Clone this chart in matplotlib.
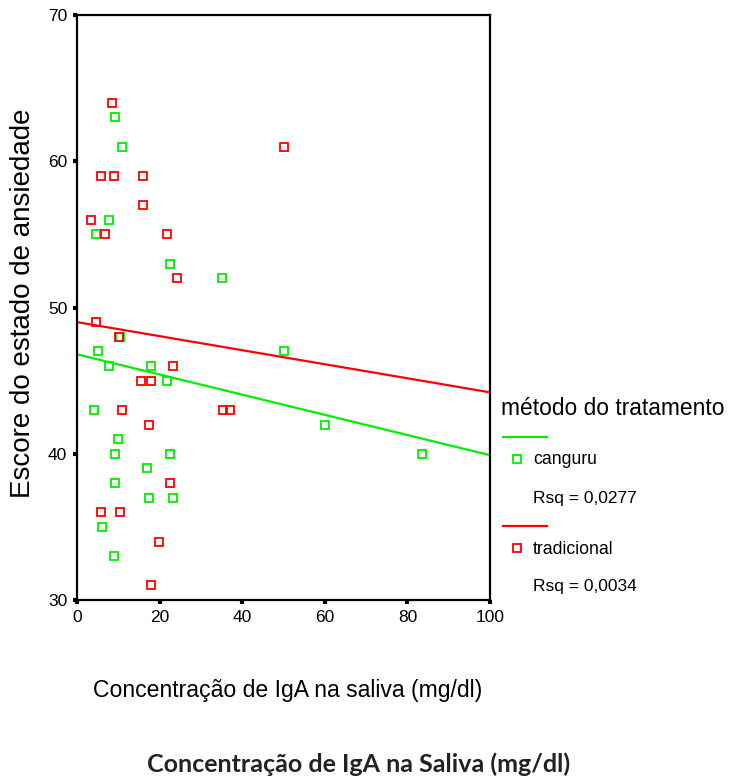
import matplotlib.pyplot as plt
from matplotlib.lines import Line2D
import numpy as np

# valores
canguru_x = [9.3, 10.8, 7.7, 4.5, 22.5, 35.0, 50.0, 60.0, 83.5, 10.3, 5.0, 7.7,
             17.8, 21.7, 4.2, 10.0, 9.3, 22.5, 17.0, 9.3, 17.4, 23.3, 6.1, 8.9]
canguru_y = [63, 61, 56, 55, 53, 52, 47, 42, 40, 48, 47, 46,
             46, 45, 43, 41, 40, 40, 39, 38, 37, 37, 35, 33]
trad_x = [8.5, 5.7, 8.9, 15.9, 15.9, 3.4, 6.9, 21.7, 24.1, 50.0, 35.4, 37.0,
          4.6, 10.1, 23.3, 15.4, 17.8, 10.8, 17.4, 22.5, 5.7, 10.4, 19.8, 17.8]
trad_y = [64, 59, 59, 59, 57, 56, 55, 55, 52, 61, 43, 43,
          49, 48, 46, 45, 45, 43, 42, 38, 36, 36, 34, 31]

# retas de regressão (intercepto, inclinação)
canguru_fit = (46.8, -0.069)
trad_fit = (49.0, -0.048)
rsq_labels = ['Rsq = 0,0277', 'Rsq = 0,0034']

green = '#00ee00'
red = '#ff0000'
font = 'Liberation Sans'

W, H = 729, 782
fig = plt.figure(figsize=(W / 100, H / 100), dpi=100)
ax = fig.add_axes([77 / W, 1 - 600 / H, (490 - 77) / W, (600 - 15) / H])

ax.plot(canguru_x, canguru_y, 's', mfc='none', mec=green, ms=5.5, mew=1.3, zorder=3)
ax.plot(trad_x, trad_y, 's', mfc='none', mec=red, ms=5.5, mew=1.3, zorder=3)

xs = np.array([0, 100])
ax.plot(xs, canguru_fit[0] + canguru_fit[1] * xs, color=green, lw=1.6)
ax.plot(xs, trad_fit[0] + trad_fit[1] * xs, color=red, lw=1.6)

ax.set_xlim(0, 100)
ax.set_ylim(30, 70)
ax.set_xticks([0, 20, 40, 60, 80, 100])
ax.set_yticks([30, 40, 50, 60, 70])
for s in ax.spines.values():
    s.set_linewidth(1.6)
tick_font = {'family': font, 'size': 12.5}
ax.tick_params(length=3, width=3, direction='out', pad=4)
ax.set_xticklabels([str(v) for v in ax.get_xticks().astype(int)], fontdict=tick_font)
ax.set_yticklabels([str(v) for v in ax.get_yticks().astype(int)], fontdict=tick_font)

fig.text(23 / W, 1 - 303 / H, 'Escore do estado de ansiedade', rotation=90,
         ha='center', va='center', family=font, fontsize=20)

fig.text(288 / W, 1 - 690 / H, 'Concentração de IgA na saliva (mg/dl)',
         ha='center', va='center', family=font, fontsize=16.6)
fig.text(359 / W, 1 - 764 / H, 'Concentração de IgA na Saliva (mg/dl)',
         ha='center', va='center', family='Lato', fontsize=18, weight='bold', color='#222222')

# legenda
fig.text(501 / W, 1 - 409 / H, 'método do tratamento', ha='left', va='center',
         family=font, fontsize=16.4)
entries = [('canguru', green, 437, rsq_labels[0]), ('tradicional', red, 526, rsq_labels[1])]
for name, col, ly, rsq in entries:
    fig.add_artist(Line2D([503 / W, 547 / W], [1 - ly / H, 1 - ly / H], color=col, lw=1.6))
    fig.add_artist(Line2D([517 / W], [1 - (ly + 22) / H], marker='s', mfc='none', mec=col,
                          ms=5.5, mew=1.3, ls='none'))
    fig.text(533 / W, 1 - (ly + 23) / H, name, ha='left', va='center',
             family=font, fontsize=12.7)
    fig.text(533 / W, 1 - (ly + 61) / H, rsq, ha='left', va='center',
             family=font, fontsize=12.5)

fig.savefig('out.png', dpi=100)
